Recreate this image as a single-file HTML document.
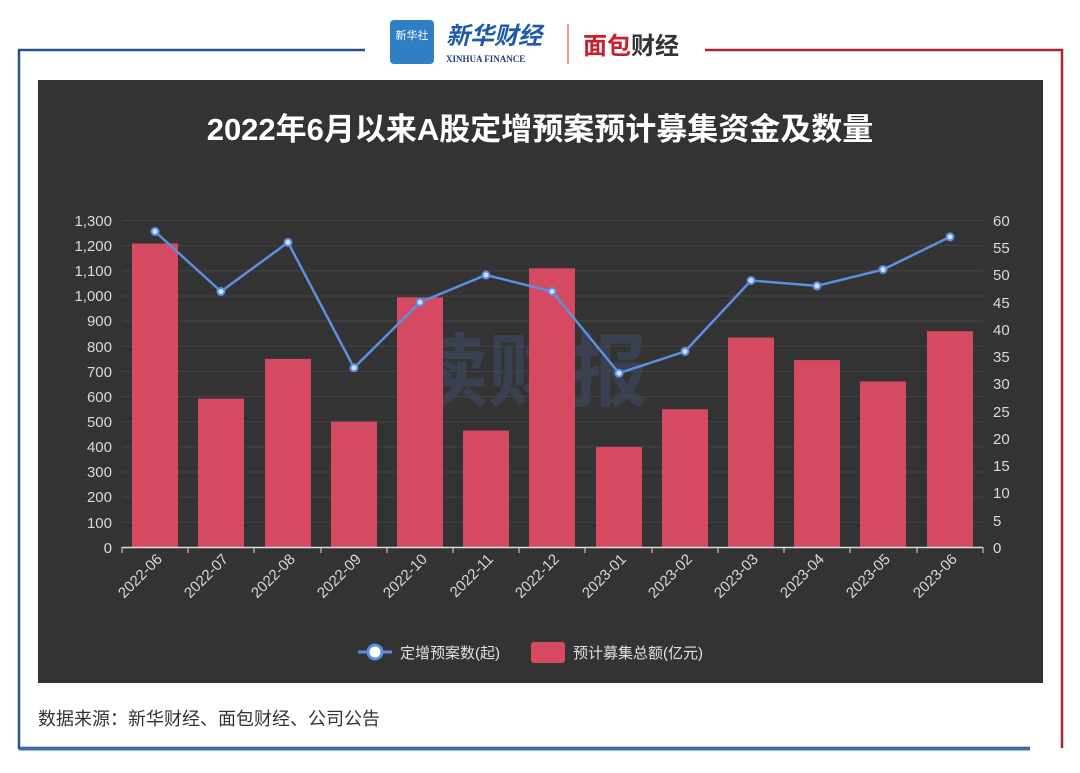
<!DOCTYPE html>
<html><head><meta charset="utf-8"><style>
body{margin:0;width:1080px;height:768px;background:#fff;overflow:hidden;font-family:"Liberation Sans","Noto Sans CJK SC",sans-serif}
</style></head><body>
<svg width="1080" height="768" xmlns="http://www.w3.org/2000/svg" font-family="Liberation Sans, Noto Sans CJK SC, sans-serif">
<path d="M365 50 H19 V748 H1030" stroke="#2a4f8f" stroke-width="2.5" fill="none"/>
<path d="M705 50 H1062 V748" stroke="#a9262e" stroke-width="2.5" fill="none"/>
<line x1="19" y1="749" x2="1030" y2="749" stroke="#3b6fb0" stroke-width="3"/>
<rect x="390" y="20" width="44" height="44" rx="4" fill="#2f7fc4"/>
<text x="412" y="39" font-size="11" fill="#fff" text-anchor="middle">新华社</text>
<text x="446" y="44" font-size="24" fill="#1e5aa8" font-weight="bold" font-style="italic">新华财经</text>
<text x="446" y="62" font-size="9" fill="#1e3f7a" font-family="Liberation Serif, serif" font-weight="bold">XINHUA FINANCE</text>
<line x1="568" y1="24" x2="568" y2="64" stroke="#c33" stroke-width="1"/>
<text x="583" y="54" font-size="24" fill="#c8202b" font-weight="bold">面包<tspan fill="#333">财经</tspan></text>
<rect x="38" y="80" width="1005" height="603" fill="#333333"/>
<text x="540" y="140" font-size="31" fill="#fff" font-weight="bold" text-anchor="middle">2022年6月以来A股定增预案预计募集资金及数量</text>
<text x="528" y="400" font-size="80" fill="#3d4a66" opacity="0.6" font-weight="bold" text-anchor="middle">读财报</text>
<g stroke="#444" stroke-width="1">
<line x1="122" y1="220.5" x2="983" y2="220.5"/><line x1="122" y1="245.7" x2="983" y2="245.7"/><line x1="122" y1="270.8" x2="983" y2="270.8"/><line x1="122" y1="296" x2="983" y2="296"/><line x1="122" y1="321.1" x2="983" y2="321.1"/><line x1="122" y1="346.3" x2="983" y2="346.3"/><line x1="122" y1="371.4" x2="983" y2="371.4"/><line x1="122" y1="396.6" x2="983" y2="396.6"/><line x1="122" y1="421.7" x2="983" y2="421.7"/><line x1="122" y1="446.9" x2="983" y2="446.9"/><line x1="122" y1="472" x2="983" y2="472"/><line x1="122" y1="497.2" x2="983" y2="497.2"/><line x1="122" y1="522.3" x2="983" y2="522.3"/>
</g>
<g fill="#d9d9d9" font-size="15" text-anchor="end">
<text x="112" y="226">1,300</text><text x="112" y="251">1,200</text><text x="112" y="276">1,100</text><text x="112" y="301">1,000</text><text x="112" y="326">900</text><text x="112" y="352">800</text><text x="112" y="377">700</text><text x="112" y="402">600</text><text x="112" y="427">500</text><text x="112" y="452">400</text><text x="112" y="477">300</text><text x="112" y="502">200</text><text x="112" y="528">100</text><text x="112" y="553">0</text>
</g>
<g fill="#d9d9d9" font-size="15" text-anchor="start">
<text x="993" y="226">60</text><text x="993" y="253">55</text><text x="993" y="280">50</text><text x="993" y="308">45</text><text x="993" y="335">40</text><text x="993" y="362">35</text><text x="993" y="389">30</text><text x="993" y="417">25</text><text x="993" y="444">20</text><text x="993" y="471">15</text><text x="993" y="498">10</text><text x="993" y="526">5</text><text x="993" y="553">0</text>
</g>
<g fill="#d64a61">
<rect x="132" y="243.5" width="46" height="304"/>
<rect x="198" y="398.6" width="46" height="148.9"/>
<rect x="265" y="358.9" width="46" height="188.6"/>
<rect x="331" y="421.7" width="46" height="125.8"/>
<rect x="397" y="297.3" width="46" height="250.2"/>
<rect x="463" y="430.5" width="46" height="117"/>
<rect x="529" y="268.3" width="46" height="279.2"/>
<rect x="596" y="446.9" width="46" height="100.6"/>
<rect x="662" y="409.2" width="46" height="138.3"/>
<rect x="728" y="337.5" width="46" height="210"/>
<rect x="794" y="360.1" width="46" height="187.4"/>
<rect x="860" y="381.5" width="46" height="166"/>
<rect x="927" y="331.2" width="46" height="216.3"/>
</g>
<line x1="122" y1="547.5" x2="983" y2="547.5" stroke="#ddd" stroke-width="1.5"/>
<g stroke="#ddd"><line x1="122" y1="547" x2="122" y2="553"/><line x1="188" y1="547" x2="188" y2="553"/><line x1="254" y1="547" x2="254" y2="553"/><line x1="321" y1="547" x2="321" y2="553"/><line x1="387" y1="547" x2="387" y2="553"/><line x1="453" y1="547" x2="453" y2="553"/><line x1="519" y1="547" x2="519" y2="553"/><line x1="585" y1="547" x2="585" y2="553"/><line x1="652" y1="547" x2="652" y2="553"/><line x1="718" y1="547" x2="718" y2="553"/><line x1="784" y1="547" x2="784" y2="553"/><line x1="850" y1="547" x2="850" y2="553"/><line x1="917" y1="547" x2="917" y2="553"/><line x1="983" y1="547" x2="983" y2="553"/></g>
<g fill="#d9d9d9" font-size="15" text-anchor="end">
<text transform="translate(163,560) rotate(-45)">2022-06</text>
<text transform="translate(229,560) rotate(-45)">2022-07</text>
<text transform="translate(296,560) rotate(-45)">2022-08</text>
<text transform="translate(362,560) rotate(-45)">2022-09</text>
<text transform="translate(428,560) rotate(-45)">2022-10</text>
<text transform="translate(494,560) rotate(-45)">2022-11</text>
<text transform="translate(560,560) rotate(-45)">2022-12</text>
<text transform="translate(627,560) rotate(-45)">2023-01</text>
<text transform="translate(693,560) rotate(-45)">2023-02</text>
<text transform="translate(759,560) rotate(-45)">2023-03</text>
<text transform="translate(825,560) rotate(-45)">2023-04</text>
<text transform="translate(891,560) rotate(-45)">2023-05</text>
<text transform="translate(958,560) rotate(-45)">2023-06</text>
</g>
<polyline fill="none" stroke="#5b8fe0" stroke-width="2.5" points="155,231.5 221,291.5 288,242.4 354,367.8 420,302.3 486,275 552,291.5 619,373.2 685,351.4 751,280.5 817,285.9 883,269.6 950,236.9"/>
<g fill="#cfe0ff" stroke="#5b8fe0" stroke-width="2">
<circle cx="155" cy="231.5" r="3.5"/><circle cx="221" cy="291.5" r="3.5"/><circle cx="288" cy="242.4" r="3.5"/><circle cx="354" cy="367.8" r="3.5"/><circle cx="420" cy="302.3" r="3.5"/><circle cx="486" cy="275" r="3.5"/><circle cx="552" cy="291.5" r="3.5"/><circle cx="619" cy="373.2" r="3.5"/><circle cx="685" cy="351.4" r="3.5"/><circle cx="751" cy="280.5" r="3.5"/><circle cx="817" cy="285.9" r="3.5"/><circle cx="883" cy="269.6" r="3.5"/><circle cx="950" cy="236.9" r="3.5"/>
</g>
<line x1="358" y1="652" x2="392" y2="652" stroke="#5b8fe0" stroke-width="3"/>
<circle cx="375" cy="652" r="7" fill="#fff" stroke="#5b8fe0" stroke-width="3"/>
<text x="400" y="658" font-size="15" fill="#e0e0e0">定增预案数(起)</text>
<rect x="531" y="642" width="34" height="21" rx="3" fill="#d64a61"/>
<text x="573" y="658" font-size="15" fill="#e0e0e0">预计募集总额(亿元)</text>
<text x="38" y="725" font-size="18" fill="#333">数据来源：新华财经、面包财经、公司公告</text>
</svg>
</body></html>
